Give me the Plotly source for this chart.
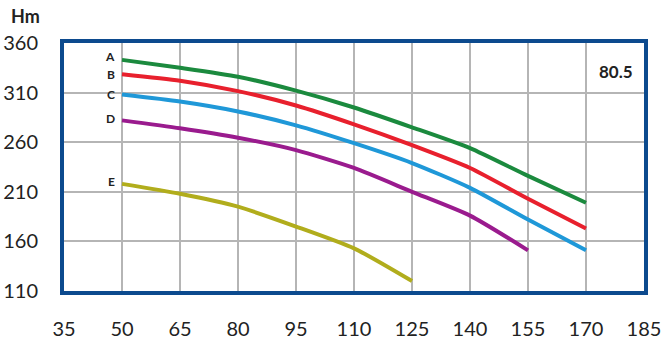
import plotly.graph_objects as go

flow = [50, 65, 80, 95, 110, 125, 140, 155, 170]
curve_a = [343, 335, 326, 312, 295, 275, 254, 226, 199]
curve_b = [328.5, 322, 311.5, 297, 278, 257, 234, 203, 173]
curve_c = [308, 301, 291, 277, 259, 239, 214, 182, 151]
curve_d = [282, 274, 264.5, 252, 234, 210, 186, 151]
curve_e = [218, 208, 195, 175, 153, 120]

names = ["A", "B", "C", "D", "E"]
series = [curve_a, curve_b, curve_c, curve_d, curve_e]
colors = ["#1b8a3e", "#e8202d", "#1f98d8", "#9a1b8e", "#b1ad1c"]
label_yshift = [3, 0, 0, 2, 2]

x_ticks = [35, 50, 65, 80, 95, 110, 125, 140, 155, 170, 185]
y_ticks = [110, 160, 210, 260, 310, 360]

fig = go.Figure()
for name, ys, col, ysh in zip(names, series, colors, label_yshift):
    fig.add_trace(go.Scatter(
        x=flow[:len(ys)], y=ys, mode="lines", name=name,
        line=dict(color=col, width=4, shape="spline", smoothing=0.6),
        showlegend=False, hoverinfo="skip"))
    fig.add_annotation(x=flow[0], y=ys[0], text="<b>%s</b>" % name,
                       showarrow=False, xanchor="right", yanchor="middle",
                       xshift=-6, yshift=ysh, borderpad=0,
                       font=dict(family="Lato", size=12, color="#222222"))

fig.add_annotation(xref="paper", yref="paper", x=0.985, y=0.885,
                   text="<b>80.5</b>", showarrow=False,
                   xanchor="right", yanchor="middle",
                   font=dict(family="Lato", size=17, color="#222222"))
fig.add_annotation(xref="paper", yref="paper", x=-0.095, y=1.11,
                   text="<b>Hm</b>", showarrow=False,
                   xanchor="left", yanchor="middle",
                   font=dict(family="Lato", size=18, color="#222222"))

axis_common = dict(showline=True, mirror=True, linecolor="#0c4a8e", linewidth=4,
                   showgrid=True, gridcolor="#b5b5b5", gridwidth=2,
                   zeroline=False, ticks="", automargin=False,
                   tickfont=dict(family="Lato", size=20, color="#222222"))

fig.update_xaxes(range=[35, 185], tickvals=x_ticks,
                 ticktext=[str(v) for v in x_ticks],
                 ticklabelstandoff=17, **axis_common)
fig.update_yaxes(range=[110, 360], tickvals=y_ticks,
                 ticktext=[str(v) for v in y_ticks],
                 ticklabelstandoff=18, **axis_common)

fig.update_layout(width=669, height=348,
                  margin=dict(l=64, r=25, t=43, b=57),
                  paper_bgcolor="white", plot_bgcolor="white")

fig.write_html("out.html")
